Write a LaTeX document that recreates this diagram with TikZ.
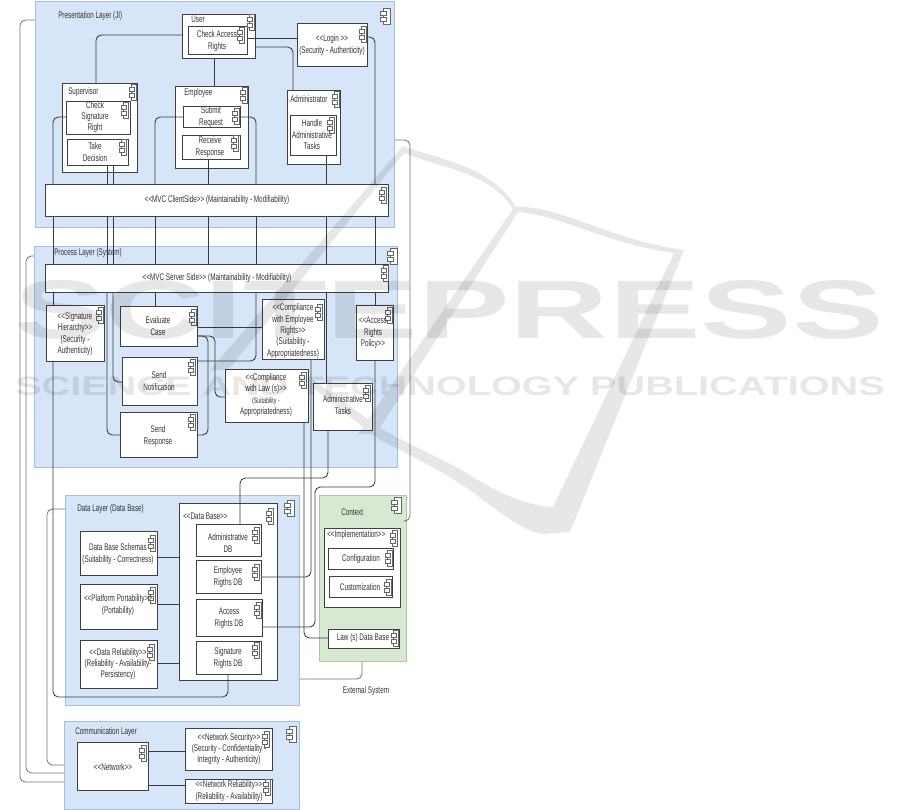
\documentclass[tikz,border=0pt]{standalone}
\usepackage{fontspec}
\setmainfont{Liberation Sans}[FakeStretch=0.66]
\usepackage{tikz}
\usetikzlibrary{positioning}

\definecolor{layerblue}{HTML}{D6E5F8}
\definecolor{layerline}{HTML}{A5BFDD}
\definecolor{ctxgreen}{HTML}{D7E8D3}
\definecolor{ctxline}{HTML}{A6CC9D}
\definecolor{wirecol}{HTML}{3A3A3A}

\tikzset{
    every node/.style={font=\fontsize{7.2}{8.6}\selectfont,text=black!80,inner sep=0pt},
    layerbox/.style={draw=layerline,fill=layerblue,line width=0.7pt,anchor=north west},
    ctxbox/.style={draw=ctxline,fill=ctxgreen,line width=0.7pt,anchor=north west},
    compbox/.style={draw=black!75,fill=white,line width=0.8pt,anchor=north west,align=center},
    wire/.style={draw=wirecol,line width=0.65pt,rounded corners=4pt},
    greywire/.style={draw=black!55,line width=0.6pt,rounded corners=4pt},
    nametext/.style={anchor=west},
    markpart/.style={fill=black,opacity=0.095,draw=none}
}
% size of a box in reference pixels
\newcommand{\boxat}[6]{\node[#1,minimum width=#5*0.75pt-#3*0.75pt,minimum height=#6*0.75pt-#4*0.75pt] (#2) at (#3,#4) {};}
\newcommand{\og}{<{}<}
\newcommand{\cg}{>{}>}

\begin{document}
\begin{tikzpicture}[x=0.75pt,y=0.75pt,yscale=-1,xscale=1]
    \useasboundingbox (0,0) rectangle (901,810);

    %Layers
    \boxat{layerbox}{presLayer}{35}{1}{394}{227}
    \boxat{layerbox}{procLayer}{34}{246}{397}{467}
    \boxat{layerbox}{dataLayer}{65}{495}{299}{705}
    \boxat{layerbox}{commLayer}{64}{721}{299}{809}
    \boxat{ctxbox}{ctxLayer}{319}{495}{406}{661}

    %Connector ends that are not on a box
    \coordinate (extBend) at (362,679);

    %Connectors go first, the boxes hide them
    \path[greywire] (presLayer.west |- 0,20) -- (20,20) -- (20,782) -- (commLayer.west |- 0,782);
    \path[greywire] (procLayer.west |- 0,256) -- (26,256) -- (26,773) -- (commLayer.west |- 0,773);
    \path[greywire] (dataLayer.west |- 0,509) -- (47,509) -- (47,765) -- (commLayer.west |- 0,765);
    \path[greywire] (presLayer.east |- 0,140) -- (410,140) -- (410,521) -- (ctxLayer.east |- 0,521);
    \path[greywire] (dataLayer.east |- extBend) -- (extBend) -- (ctxLayer.south -| extBend);

    \boxat{compbox}{user}{182}{14}{255}{58}
    \boxat{compbox}{checkAccess}{188}{26}{247}{54}
    \boxat{compbox}{login}{297}{23}{367}{66}
    \boxat{compbox}{supervisor}{62}{83}{137}{172}
    \boxat{compbox}{checkSign}{66}{101}{130}{134}
    \boxat{compbox}{takeDecision}{67}{139}{128}{165}
    \boxat{compbox}{employee}{175}{86}{248}{168}
    \boxat{compbox}{submitReq}{183}{106}{240}{127}
    \boxat{compbox}{receiveResp}{182}{135}{240}{159}
    \boxat{compbox}{admin}{287}{90}{340}{164}
    \boxat{compbox}{handleTasks}{290}{115}{336}{155}
    \boxat{compbox}{mvcClient}{45}{184}{388}{216}
    \boxat{compbox}{mvcServer}{45}{264}{388}{292}
    \boxat{compbox}{signHier}{46}{305}{104}{361}
    \boxat{compbox}{evalCase}{120}{306}{197}{346}
    \boxat{compbox}{sendNotif}{122}{357}{197}{405}
    \boxat{compbox}{sendResp}{120}{412}{197}{457}
    \boxat{compbox}{compEmp}{262}{299}{324}{359}
    \boxat{compbox}{compLaw}{225}{369}{308}{422}
    \boxat{compbox}{adminTasks}{313}{383}{372}{430}
    \boxat{compbox}{accessPolicy}{356}{305}{393}{360}
    \boxat{compbox}{dataBase}{179}{503}{277}{680}
    \boxat{compbox}{adminDB}{196}{524}{261}{556}
    \boxat{compbox}{employeeDB}{196}{560}{261}{593}
    \boxat{compbox}{accessDB}{196}{599}{262}{636}
    \boxat{compbox}{signDB}{196}{641}{261}{674}
    \boxat{compbox}{schemas}{80}{531}{157}{575}
    \boxat{compbox}{platform}{80}{584}{157}{629}
    \boxat{compbox}{reliability}{80}{640}{157}{688}
    \boxat{compbox}{impl}{324}{528}{400}{607}
    \boxat{compbox}{config}{328}{548}{393}{569}
    \boxat{compbox}{custom}{329}{576}{392}{597}
    \boxat{compbox}{lawDB}{328}{629}{399}{648}
    \boxat{compbox}{network}{77}{742}{148}{790}
    \boxat{compbox}{netSec}{185}{728}{272}{770}
    \boxat{compbox}{netRel}{185}{779}{272}{803}

    %Wires between the boxes
    \path[wire] (user.west |- 0,35) -- (96,35) -- (supervisor.north -| 96,0);
    \path[wire] (user.south -| 214,0) -- (employee.north -| 214,0);
    \path[wire] (checkAccess.east |- 0,38) -- (login.west |- 0,38);
    \path[wire] (user.east |- 0,47) -- (293,47) -- (admin.north -| 293,0);

    \path[wire] (takeDecision.south -| 107,0) -- (mvcClient.north -| 107,0);
    \path[wire] (takeDecision.south -| 113,0) -- (mvcClient.north -| 113,0);
    \path[wire] (checkSign.west |- 0,117) -- (53,117) -- (mvcClient.north -| 53,0);
    \path[wire] (submitReq.west |- 0,117) -- (155,117) -- (mvcClient.north -| 155,0);
    \path[wire] (submitReq.east |- 0,117) -- (256,117) -- (mvcClient.north -| 256,0);
    \path[wire] (receiveResp.south -| 208,0) -- (mvcClient.north -| 208,0);
    \path[wire] (handleTasks.south -| 326,0) -- (mvcClient.north -| 326,0);
    \path[wire] (login.east |- 0,37) -- (375,37) -- (mvcClient.north -| 375,0);

    \foreach \wx in {53,107,113,155,208,256,326,375}
        \path[wire] (mvcClient.south -| \wx,0) -- (mvcServer.north -| \wx,0);

    \path[wire] (mvcServer.south -| 53,0) -- (signHier.north -| 53,0);
    \path[wire] (signHier.south -| 53,0) -- (53,697) -- (228,697) -- (signDB.south -| 228,0);
    \path[wire] (mvcServer.south -| 107,0) -- (107,435) -- (sendResp.west |- 0,435);
    \path[wire] (mvcServer.south -| 113,0) -- (113,382) -- (sendNotif.west |- 0,382);
    \path[wire] (mvcServer.south -| 155,0) -- (evalCase.north -| 155,0);
    \path[wire] (mvcServer.south -| 256,0) -- (256,361) -- (sendNotif.east |- 0,361);
    \path[wire] (mvcServer.south -| 326,0) -- (adminTasks.north -| 326,0);
    \path[wire] (mvcServer.south -| 375,0) -- (accessPolicy.north -| 375,0);
    \path[wire] (evalCase.east |- 0,327) -- (compEmp.west |- 0,327);
    \path[wire] (evalCase.east |- 0,336) -- (208,336) -- (208,435) -- (sendResp.east |- 0,435);
    \path[wire] (evalCase.east |- 0,336) -- (215,336) -- (215,397) -- (compLaw.west |- 0,397);

    \path[wire] (accessPolicy.south -| 375,0) -- (375,487) -- (315,487) -- (315,627) -- (accessDB.east |- 0,627);
    \path[wire] (compEmp.south -| 311,0) -- (311,577) -- (employeeDB.east |- 0,577);
    \path[wire] (compLaw.south -| 304,0) -- (304,638) -- (lawDB.west |- 0,638);
    \path[wire] (adminTasks.south -| 328,0) -- (328,478) -- (240,478) -- (adminDB.north -| 240,0);

    \path[wire] (schemas.east |- 0,557) -- (dataBase.west |- 0,557);
    \path[wire] (platform.east |- 0,604) -- (dataBase.west |- 0,604);
    \path[wire] (reliability.east |- 0,663) -- (dataBase.west |- 0,663);
    \path[wire] (network.east |- 0,751) -- (netSec.west |- 0,751);
    \path[wire] (network.east |- 0,785) -- (netRel.west |- 0,785);

    %Component marks
    \foreach \mx/\my in {251/22,241/35,363/34,133/92,125/110,123/147,244/95,236/116,235/143,336/99,331/125,383/195,
        385/273,100/315,193/317,192/367,192/422,319/312,303/380,367/393,389/315,
        270/516,256/535,256/572,258/610,256/650,152/543,152/595,151/652,394/538,389/558,388/587,395/638,
        143/753,266/739,267/787}{
        \draw[black!60,line width=0.45pt,fill=white] (\mx-2,\my-8) rectangle (\mx+3,\my+8);
        \draw[black!60,line width=0.45pt,fill=white] (\mx-4,\my-5) rectangle (\mx+1,\my-1);
        \draw[black!60,line width=0.45pt,fill=white] (\mx-4,\my+1) rectangle (\mx+1,\my+5);
    }
    \foreach \mx/\my in {386/16,393/256,290/508,397/505,292/734}{
        \draw[black!60,line width=0.55pt,fill=white] (\mx-3,\my-8) rectangle (\mx+4,\my+8);
        \draw[black!60,line width=0.55pt,fill=white] (\mx-6,\my-5) rectangle (\mx,\my-1);
        \draw[black!60,line width=0.55pt,fill=white] (\mx-6,\my+1) rectangle (\mx,\my+5);
    }

    % Text Node
    \node[nametext] (presName) at (58,16) {Presentation Layer (JI)};
    \node[nametext] (procName) at (54,253) {Process Layer (System)};
    \node[nametext] (dataName) at (77,509) {Data Layer (Data Base)};
    \node[nametext] (commName) at (75,732) {Communication Layer};
    \node[nametext] (ctxName) at (341,512) {Context};
    \node (extName) at (366,691) {External System};

    \node[nametext] (userName) at (191,19) {User};
    \node[nametext] (supName) at (68,92) {Supervisor};
    \node[nametext] (empName) at (184,93) {Employee};
    \node[nametext] (adminName) at (290,99) {Administrator};
    \node[nametext] (dbName) at (183,516) {\og Data Base\cg};
    \node[nametext] (implName) at (327,535) {\og Implementation\cg};

    \node[align=center] (t1) at (217,41) {Check Access\\Rights};
    \node[align=center] (t2) at (332,45) {\og Login \cg\\(Security - Authenticity)};
    \node[align=center] (t3) at (95,117) {Check\\Signature\\Right};
    \node[align=center] (t4) at (95,152) {Take\\Decision};
    \node[align=center] (t5) at (211,117) {Submit\\Request};
    \node[align=center] (t6) at (210,147) {Receive\\Response};
    \node[align=center] (t7) at (312,135) {Handle\\Administrative\\Tasks};
    \node (t8) at (217,200) {\og MVC ClientSide\cg\ (Maintainability - Modifiability)};
    \node (t9) at (217,278) {\og MVC Server Side\cg\ (Maintainability - Modifiability)};
    \node[align=center] (t10) at (75,334) {\og Signature\\Hierarchy\cg\\(Security -\\Authenticity)};
    \node[align=center] (t11) at (158,326) {Evaluate\\Case};
    \node[align=center] (t12) at (159,381) {Send\\Notification};
    \node[align=center] (t13) at (158,436) {Send\\Response};
    \node[align=center] (t14) at (293,331) {\og Compliance\\with Employee\\Rights\cg\\(Suitability -\\Appropriatedness)};
    \node[align=center] (t15) at (266,395) {\og Compliance\\with Law (s)\cg\\{\fontsize{6}{8.6}\selectfont(Suitability -}\\Appropriatedness)};
    \node[align=center] (t16) at (343,405) {Administrative\\Tasks};
    \node[align=center] (t17) at (373,333) {\og Access\\Rights\\Policy\cg};
    \node[align=center] (t18) at (228,543) {Administrative\\DB};
    \node[align=center] (t19) at (228,577) {Employee\\Rigths DB};
    \node[align=center] (t20) at (229,618) {Access\\Rights DB};
    \node[align=center] (t21) at (228,658) {Signature\\Rights DB};
    \node[align=center] (t22) at (118,554) {Data Base Schemas\\(Suitability - Correctness)};
    \node[align=center] (t23) at (118,605) {\og Platform Portability\cg\\(Portability)};
    \node[align=center] (t24) at (118,664) {\og Data Reliability\cg\\(Reliability - Availability-\\Persistency)};
    \node (t25) at (361,559) {Configuration};
    \node (t26) at (360,587) {Customization};
    \node (t27) at (363,638) {Law (s) Data Base};
    \node (t28) at (113,767) {\og Network\cg};
    \node[align=center] (t29) at (229,749) {\og Network Security\cg\\(Security - Confidentiality -\\Integrity - Authenticity)};
    \node[align=center] (t30) at (229,791) {\og Network Reliability\cg\\(Reliability - Availability)};

    %Mark printed over the whole page
    \node[opacity=0.095,text=black] (markTop) at (449,310) {\resizebox{651pt}{43.5pt}{\bfseries SCITEPRESS}};
    \node[opacity=0.095,text=black] (markSub) at (450,386) {\resizebox{652pt}{14pt}{\bfseries SCIENCE AND TECHNOLOGY PUBLICATIONS}};
    \fill[markpart] (403,146) .. controls (440,160) and (490,165) .. (516,207) .. controls (560,205) and (610,240) .. (684,250) -- (570,532) -- (543,534) .. controls (520,530) and (500,512) .. (467,488) .. controls (440,470) and (410,455) .. (380,440) -- (313,388) -- (313,380) -- (358,412) -- (380,428) .. controls (410,445) and (440,458) .. (467,473) .. controls (490,488) and (520,505) .. (553,507) -- (674,253) .. controls (610,245) and (560,215) .. (518,212) -- (376,434) -- (358,434) -- (513,209) .. controls (490,172) and (440,168) .. (404,153) -- (228,370) -- (210,370) -- cycle;
\end{tikzpicture}
\end{document}
